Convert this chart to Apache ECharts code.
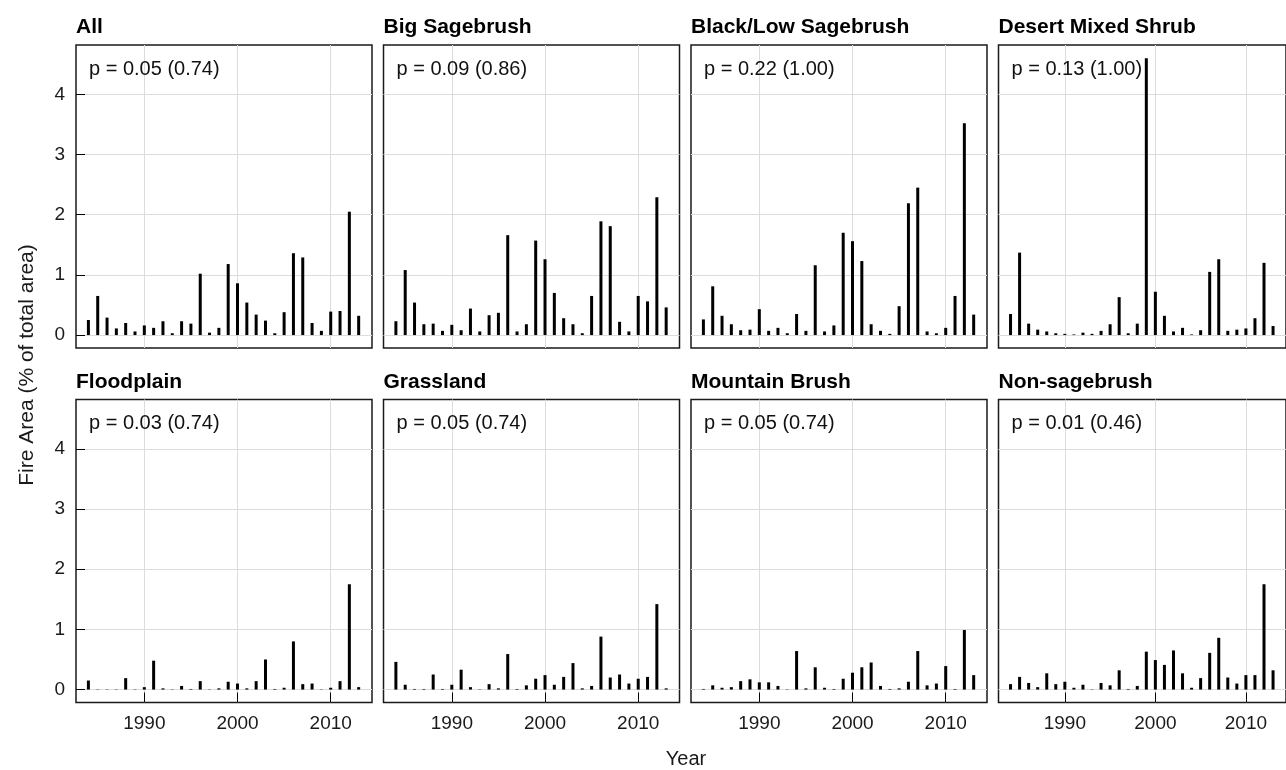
<!DOCTYPE html>
<html>
<head>
<meta charset="utf-8">
<script src="https://cdn.jsdelivr.net/npm/echarts@6/dist/echarts.min.js"></script>
<style>
  html, body { margin: 0; padding: 0; background: #fff; }
  #chart { width: 1286px; height: 770px; }
</style>
</head>
<body>
<div id="chart"></div>
<script>
// Annual burned area by vegetation class, 1984-2013 (% of total area)
const years = [1984, 1985, 1986, 1987, 1988, 1989, 1990, 1991, 1992, 1993,
               1994, 1995, 1996, 1997, 1998, 1999, 2000, 2001, 2002, 2003,
               2004, 2005, 2006, 2007, 2008, 2009, 2010, 2011, 2012, 2013];

const allVeg = [0.25, 0.65, 0.29, 0.11, 0.20, 0.06, 0.16, 0.12, 0.23, 0.03,
                0.23, 0.19, 1.02, 0.04, 0.12, 1.18, 0.86, 0.54, 0.34, 0.24,
                0.03, 0.38, 1.36, 1.29, 0.20, 0.07, 0.39, 0.40, 2.05, 0.32];
const bigSage = [0.23, 1.08, 0.54, 0.18, 0.19, 0.07, 0.17, 0.08, 0.44, 0.06,
                 0.33, 0.37, 1.66, 0.06, 0.18, 1.57, 1.26, 0.70, 0.28, 0.18,
                 0.03, 0.65, 1.89, 1.81, 0.22, 0.06, 0.65, 0.56, 2.29, 0.46];
const blackLowSage = [0.26, 0.81, 0.32, 0.18, 0.08, 0.09, 0.43, 0.07, 0.12, 0.03,
                      0.35, 0.07, 1.16, 0.06, 0.16, 1.70, 1.56, 1.23, 0.18, 0.07,
                      0.02, 0.48, 2.19, 2.45, 0.06, 0.03, 0.12, 0.65, 3.52, 0.34];
const desertShrub = [0.35, 1.37, 0.19, 0.09, 0.06, 0.03, 0.02, 0.01, 0.04, 0.02,
                     0.07, 0.18, 0.63, 0.03, 0.19, 4.60, 0.72, 0.32, 0.06, 0.12,
                     0.01, 0.08, 1.05, 1.26, 0.07, 0.09, 0.11, 0.28, 1.20, 0.15];
const floodplain = [0.15, 0.005, 0.005, 0.005, 0.19, 0.005, 0.04, 0.48, 0.02, 0.005,
                    0.06, 0.01, 0.14, 0.005, 0.02, 0.13, 0.10, 0.02, 0.14, 0.50,
                    0.01, 0.03, 0.80, 0.09, 0.10, 0.005, 0.03, 0.14, 1.75, 0.04];
const grassland = [0.46, 0.08, 0.01, 0.01, 0.25, 0.01, 0.08, 0.33, 0.04, 0.005,
                   0.09, 0.02, 0.59, 0.01, 0.07, 0.18, 0.24, 0.08, 0.21, 0.44,
                   0.02, 0.06, 0.88, 0.20, 0.25, 0.10, 0.18, 0.21, 1.42, 0.02];
const mountainBrush = [0.01, 0.07, 0.03, 0.04, 0.14, 0.17, 0.12, 0.12, 0.06, 0.005,
                       0.64, 0.02, 0.37, 0.03, 0.01, 0.18, 0.28, 0.37, 0.45, 0.06,
                       0.01, 0.02, 0.13, 0.64, 0.07, 0.10, 0.39, 0.01, 0.99, 0.24];
const nonSage = [0.09, 0.21, 0.11, 0.04, 0.27, 0.09, 0.13, 0.03, 0.08, 0.005,
                 0.11, 0.07, 0.32, 0.01, 0.06, 0.63, 0.49, 0.41, 0.65, 0.27,
                 0.03, 0.19, 0.61, 0.86, 0.20, 0.10, 0.24, 0.24, 1.75, 0.32];

const panelTitles = ['All', 'Big Sagebrush', 'Black/Low Sagebrush', 'Desert Mixed Shrub',
                     'Floodplain', 'Grassland', 'Mountain Brush', 'Non-sagebrush'];
const pLabels = ['p = 0.05 (0.74)', 'p = 0.09 (0.86)', 'p = 0.22 (1.00)', 'p = 0.13 (1.00)',
                 'p = 0.03 (0.74)', 'p = 0.05 (0.74)', 'p = 0.05 (0.74)', 'p = 0.01 (0.46)'];
const panelValues = [allVeg, bigSage, blackLowSage, desertShrub,
                     floodplain, grassland, mountainBrush, nonSage];

const yTicks = [0, 1, 2, 3, 4];
const xTicks = [1990, 2000, 2010];
const yTitle = 'Fire Area (% of total area)';
const xTitle = 'Year';

// ---- layout ----
const FONT = "'Liberation Sans', Arial, Helvetica, sans-serif";
const colLeft = [76, 383.5, 691, 998.5];
const rowTop = [45, 399.5];
const panelW = 296;
const panelH = 303;
const yRange = [-0.215, 4.82];
const xRange = [1982.67, 2014.43];

const grids = [], xAxes = [], yAxes = [], series = [], titles = [];

panelValues.forEach(function (vals, k) {
  const col = k % 4, row = Math.floor(k / 4);
  const left = colLeft[col], top = rowTop[row];
  const firstCol = col === 0, bottomRow = row === 1;

  grids.push({
    left: left, top: top, width: panelW, height: panelH,
    show: true, borderColor: '#1a1a1a', borderWidth: 1.5, backgroundColor: '#fff'
  });

  xAxes.push({
    type: 'value', gridIndex: k, min: xRange[0], max: xRange[1],
    axisLine: { show: false, onZero: false },
    axisTick: { show: bottomRow, inside: true, length: 10, customValues: xTicks,
                lineStyle: { color: '#000', width: 1 } },
    axisLabel: { show: bottomRow, customValues: xTicks, margin: 12,
                 formatter: function (v) { return String(v); },
                 color: '#1a1a1a', fontSize: 19, fontFamily: FONT },
    splitLine: { show: true, lineStyle: { color: '#dcdcdc', width: 1 } }
  });

  yAxes.push({
    type: 'value', gridIndex: k, min: yRange[0], max: yRange[1],
    axisLine: { show: false, onZero: false },
    axisTick: { show: firstCol, inside: true, length: 9, customValues: yTicks,
                lineStyle: { color: '#000', width: 1 } },
    axisLabel: { show: firstCol, customValues: yTicks, margin: 11,
                 color: '#1a1a1a', fontSize: 19, fontFamily: FONT },
    splitLine: { show: true, lineStyle: { color: '#dcdcdc', width: 1 } }
  });

  series.push({
    type: 'bar', xAxisIndex: k, yAxisIndex: k, barWidth: 3,
    itemStyle: { color: '#000' },
    silent: true,
    data: years.map(function (y, i) { return [y, vals[i]]; })
  });

  titles.push({
    text: panelTitles[k], left: left, top: top - 28, padding: 0,
    textStyle: { fontSize: 21, fontWeight: 'bold', color: '#000', fontFamily: FONT }
  });
  titles.push({
    text: pLabels[k], left: left + 13, top: top + 14, padding: 0,
    textStyle: { fontSize: 20, fontWeight: 'normal', color: '#111', fontFamily: FONT }
  });
});

const chart = echarts.init(document.getElementById('chart'), null, { renderer: 'canvas' });
chart.setOption({
  animation: false,
  backgroundColor: '#fff',
  title: titles,
  grid: grids,
  xAxis: xAxes,
  yAxis: yAxes,
  series: series,
  graphic: [
    {
      type: 'text', x: 27, y: 365, rotation: Math.PI / 2,
      style: { text: yTitle, fill: '#1a1a1a', fontSize: 21, fontFamily: FONT,
               textAlign: 'center', textVerticalAlign: 'middle' }
    },
    {
      type: 'text', x: 686, y: 759,
      style: { text: xTitle, fill: '#1a1a1a', fontSize: 20, fontFamily: FONT,
               textAlign: 'center', textVerticalAlign: 'middle' }
    }
  ]
});
</script>
</body>
</html>
